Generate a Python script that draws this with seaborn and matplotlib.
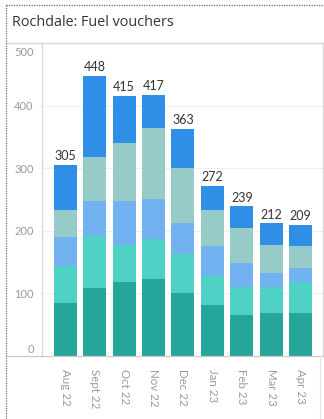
import matplotlib
matplotlib.use("Agg")
import matplotlib.pyplot as plt
import matplotlib.transforms as mtransforms
from matplotlib.lines import Line2D
import numpy as np
import pandas as pd
import seaborn as sns

# Monthly fuel voucher counts, stacked in five bands (bottom to top)
months = ["Aug 22", "Sept 22", "Oct 22", "Nov 22", "Dec 22",
          "Jan 23", "Feb 23", "Mar 23", "Apr 23"]
band_1 = [85, 109, 118, 123, 100, 81, 65, 69, 69]
band_2 = [58, 83, 60, 64, 63, 46, 46, 41, 49]
band_3 = [47, 56, 70, 63, 50, 49, 38, 23, 23]
band_4 = [44, 70, 92, 115, 88, 57, 55, 44, 34]
band_5 = [71, 130, 75, 52, 62, 39, 35, 35, 34]
y_ticks = [0, 100, 200, 300, 400, 500]

bands = [band_1, band_2, band_3, band_4, band_5]
colors = ["#26a69a", "#4fd1c5", "#72b2f0", "#96cbc8", "#2f8fe6"]

cum = np.cumsum(np.array(bands), axis=0)
df = pd.DataFrame({"month": months})
for i in range(len(bands)):
    df[f"level_{i}"] = cum[i]

sns.set_theme(style="white")
plt.rcParams["font.family"] = ["Lato", "DejaVu Sans"]

W, H = 324, 419
fig = plt.figure(figsize=(W / 100, H / 100), dpi=100)
fig.patch.set_facecolor("white")

left, right, top, bottom = 42, 323, 43, 356
ax = fig.add_axes([left / W, 1 - bottom / H, (right - left) / W, (bottom - top) / H])

# draw the stacks from the full total down, so each lower band covers the one above
for i in reversed(range(len(bands))):
    sns.barplot(data=df, x="month", y=f"level_{i}", color=colors[i],
                saturation=1, width=0.78, edgecolor="none", linewidth=0, ax=ax)

totals = cum[-1]
ax.bar_label(ax.containers[0], labels=[str(int(t)) for t in totals],
             padding=2, fontsize=9, color="#333333")

ax.set_ylim(0, 500)
ax.set_xlim(-0.79, 8.76)
ax.set_xlabel("")
ax.set_ylabel("")

ax.set_yticks(y_ticks)
ax.set_yticklabels([str(t) for t in y_ticks])
ax.yaxis.grid(True, color="#efefef", linewidth=0.8)
ax.set_axisbelow(True)
ax.tick_params(axis="y", length=0, pad=6, labelsize=8, labelcolor="#9a9a9a")
ax.tick_params(axis="x", length=0, pad=9, labelsize=8.3, labelcolor="#9a9a9a")
for lab in ax.get_xticklabels():
    lab.set_rotation(-90)
    lab.set_va("top")
    lab.set_ha("center")

ylabs = ax.get_yticklabels()
ylabs[0].set_va("bottom")
ylabs[0].set_transform(ylabs[0].get_transform() +
                       mtransforms.ScaledTranslation(0, 1 / 72, fig.dpi_scale_trans))
ylabs[-1].set_va("top")
ylabs[-1].set_transform(ylabs[-1].get_transform() +
                        mtransforms.ScaledTranslation(0, -3 / 72, fig.dpi_scale_trans))

for side in ["left", "top", "right"]:
    ax.spines[side].set_visible(True)
    ax.spines[side].set_color("#d6d6d6")
    ax.spines[side].set_linewidth(0.9)
ax.spines["bottom"].set_color("#c8c8c8")
ax.spines["bottom"].set_linewidth(0.9)

def fx(x):
    return x / W

def fy(y):
    return 1 - y / H

# header rules framing the value column and the dotted sheet border
fig.add_artist(Line2D([fx(7), fx(left)], [fy(top), fy(top)], color="#d6d6d6", lw=0.9))
fig.add_artist(Line2D([fx(7), fx(left)], [fy(bottom), fy(bottom)], color="#c8c8c8", lw=0.9))
fig.add_artist(Line2D([fx(320), fx(320)], [fy(bottom), fy(H)], color="#e6e6e6", lw=0.9))
fig.add_artist(Line2D([fx(6), fx(6)], [fy(5), fy(H)], color="#6a6a6a", lw=0.9, ls=(0, (1, 1))))
fig.add_artist(Line2D([fx(6), fx(W)], [fy(5), fy(5)], color="#6a6a6a", lw=0.9, ls=(0, (1, 1))))

fig.text(fx(12), fy(22), "Rochdale: Fuel vouchers", fontsize=10.4, color="#333333",
         ha="left", va="center", family=["Open Sans", "DejaVu Sans"])

fig.savefig("out.png", dpi=100, facecolor="white")
